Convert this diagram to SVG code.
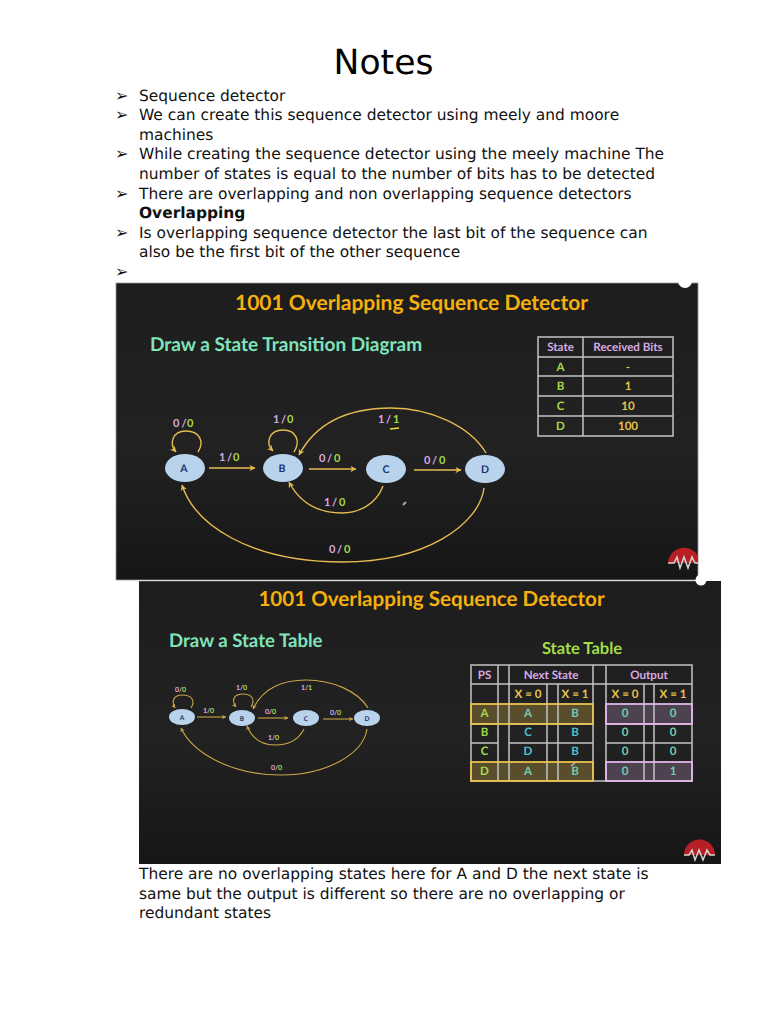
<svg xmlns="http://www.w3.org/2000/svg" width="768" height="1024" viewBox="0 0 768 1024">
<defs>
<linearGradient id="bg" x1="0" y1="0" x2="0" y2="1"><stop offset="0" stop-color="#1d1d1d"/><stop offset="0.55" stop-color="#222222"/><stop offset="1" stop-color="#161616"/></linearGradient>
<marker id="ah" viewBox="0 0 10 10" refX="9" refY="5" markerWidth="7" markerHeight="7" markerUnits="userSpaceOnUse" orient="auto"><path d="M1 0.5L9.5 5L1 9.5L3.5 5Z" fill="#e6bc50"/></marker>
<marker id="ah2" viewBox="0 0 10 10" refX="9" refY="5" markerWidth="5" markerHeight="5" markerUnits="userSpaceOnUse" orient="auto"><path d="M1 0.5L9.5 5L1 9.5L3.5 5Z" fill="#c9a646"/></marker>
</defs>
<style>
text{font-family:"DejaVu Sans","Liberation Sans",sans-serif;text-rendering:geometricPrecision}
.b{font-size:15.45px;fill:#111}
.bu{font-size:16px;fill:#111}
.s{font-family:"Lato","Open Sans",sans-serif;font-weight:700}
.c{text-anchor:middle}
.w{stroke:#e6bc50;stroke-width:1.4;fill:none;marker-end:url(#ah)}
.w2{stroke:#c9a646;stroke-width:1.1;fill:none;marker-end:url(#ah2)}
.st{fill:#b9d3ec}
.p{fill:#d8a9e0}.g{fill:#a4dc4a}.y{fill:#e8c34e}.t{fill:#72cdb4}.cy{fill:#4fc3d0}
.gl{stroke:#c4c4c4;stroke-width:1.5;fill:none}
.l1{font-size:11px}
.l2{font-size:7px}
.tt{font-size:11.600px}
</style>
<rect width="768" height="1024" fill="#fff"/>
<text x="383.500" y="74" class="c" font-size="34.600" fill="#000">Notes</text>
<g id="notes">
<text x="115" y="101" class="bu">➢</text><text x="139" y="101" class="b">Sequence detector</text>
<text x="115" y="120" class="bu">➢</text><text x="139" y="120" class="b">We can create this sequence detector using meely and moore</text>
<text x="139" y="140" class="b">machines</text>
<text x="115" y="159" class="bu">➢</text><text x="139" y="159" class="b">While creating the sequence detector using the meely machine The</text>
<text x="139" y="179" class="b">number of states is equal to the number of bits has to be detected</text>
<text x="115" y="199" class="bu">➢</text><text x="139" y="199" class="b">There are overlapping and non overlapping sequence detectors</text>
<text x="139" y="218" class="b" font-weight="700">Overlapping</text>
<text x="115" y="238" class="bu">➢</text><text x="139" y="238" class="b">Is overlapping sequence detector the last bit of the sequence can</text>
<text x="139" y="257" class="b">also be the first bit of the other sequence</text>
<text x="115" y="277" class="bu">➢</text>
</g>
<rect x="116" y="283" width="582" height="297" fill="url(#bg)" stroke="#9a9a9a" stroke-width="0.8"/>
<circle cx="685" cy="281" r="7" fill="#fff"/>
<rect x="139" y="581" width="582" height="283" fill="url(#bg)"/>
<rect x="116" y="580" width="582" height="1.2" fill="#ddd"/>
<circle cx="701" cy="580" r="5.500" fill="#fff"/>
<text x="411.500" y="310" class="s c" font-size="21" fill="#f5b010">1001 Overlapping Sequence Detector</text>
<text x="150" y="351" class="s" font-size="19" fill="#80e3ba">Draw a State Transition Diagram</text>
<g id="connectors-1">
<path class="w" d="M209 468H255"/>
<path class="w" d="M309 469H356"/>
<path class="w" d="M414 470H461"/>
<path class="w" d="M198 452C205 441 199 431 186 431C172 431 169 444 176 452"/>
<path class="w" d="M294 452C301 441 296 430 283 430C269 430 265 443 273 451"/>
<path class="w" d="M486 453C470 426 430 408 391 408C345 408 315 425 299 455"/>
<path class="w" d="M383 486C376 505 358 513 342 513C317 513 300 503 289 482"/>
<path class="w" d="M484 488C479 525 425 562 343 562C250 562 195 525 182 485"/>
</g>
<g id="labels-1">
<text x="173" y="427" class="s l1 p">0</text><text x="181.500" y="427" class="s l1 p">/</text><text x="187" y="427" class="s l1 g">0</text>
<text x="273" y="423" class="s l1 p">1</text><text x="281" y="423" class="s l1 p">/</text><text x="287" y="423" class="s l1 g">0</text>
<text x="219" y="461" class="s l1 p">1</text><text x="227" y="461" class="s l1 p">/</text><text x="233" y="461" class="s l1 g">0</text>
<text x="319" y="462" class="s l1 p">0</text><text x="327" y="462" class="s l1 p">/</text><text x="334" y="462" class="s l1 g">0</text>
<text x="424" y="464" class="s l1 p">0</text><text x="432" y="464" class="s l1 p">/</text><text x="439" y="464" class="s l1 g">0</text>
<text x="378" y="423" class="s l1 p">1</text><text x="386" y="423" class="s l1 p">/</text><text x="393" y="423" class="s l1 g">1</text>
<text x="324" y="506" class="s l1 p">1</text><text x="332" y="506" class="s l1 p">/</text><text x="339" y="506" class="s l1 g">0</text>
<text x="329" y="553" class="s l1 p">0</text><text x="337" y="553" class="s l1 p">/</text><text x="344" y="553" class="s l1 g">0</text>
</g>
<path d="M390 429L399 428" stroke="#e8e23a" stroke-width="1.500"/>
<path d="M403 505L406 502" stroke="#aaa" stroke-width="2"/>
<g id="node-a1"><ellipse class="st" cx="185" cy="468" rx="20" ry="14"/><text x="184" y="472" class="s c" font-size="10.500" fill="#1a3370">A</text></g>
<g id="node-b1"><ellipse class="st" cx="283" cy="468" rx="20" ry="14"/><text x="282" y="472" class="s c" font-size="10.500" fill="#1a3370">B</text></g>
<g id="node-c1"><ellipse class="st" cx="386" cy="469" rx="20" ry="14"/><text x="386" y="473" class="s c" font-size="10.500" fill="#1a3370">C</text></g>
<g id="node-d1"><ellipse class="st" cx="485" cy="469" rx="20" ry="14"/><text x="485" y="473" class="s c" font-size="10.500" fill="#1a3370">D</text></g>
<g id="table-1">
<path class="gl" d="M538 337H673V436H538ZM583 337V436M538 357H673M538 376H673M538 396H673M538 416H673"/>
<text x="560.500" y="351" class="s c p tt">State</text><text x="628" y="351" class="s c p tt">Received Bits</text>
<text x="560.500" y="371" class="s c g tt">A</text><text x="628" y="371" class="s c y tt">-</text>
<text x="560.500" y="390" class="s c g tt">B</text><text x="628" y="390" class="s c y tt">1</text>
<text x="560.500" y="410" class="s c g tt">C</text><text x="628" y="410" class="s c y tt">10</text>
<text x="560.500" y="430" class="s c g tt">D</text><text x="628" y="430" class="s c y tt">100</text>
</g>
<g id="logo-1"><path d="M668 563A16 16 0 0 1 698 556V563Z" fill="#b81f24"/><path d="M668 563H674L677 557L680 568L684 557L688 568L692 557L695 563H698" fill="none" stroke="#d5d5d5" stroke-width="1.500"/></g>

<text x="431.500" y="606" class="s c" font-size="20.600" fill="#f5b010">1001 Overlapping Sequence Detector</text>
<text x="169" y="647" class="s" font-size="18.600" fill="#80e3ba">Draw a State Table</text>
<g id="connectors-2">
<path class="w2" d="M197 717H226"/>
<path class="w2" d="M258 718H288"/>
<path class="w2" d="M323 719H353"/>
<path class="w2" d="M191 708C196 700 191 695 182 695C174 695 171 701 175 708"/>
<path class="w2" d="M251 707C256 699 251 694 243 694C234 694 231 700 236 707"/>
<path class="w2" d="M368 708C358 691 332 680 306 680C280 680 262 690 253 709"/>
<path class="w2" d="M304 729C298 741 288 745 275 745C262 745 252 738 247 726"/>
<path class="w2" d="M367 729C363 755 325 775 281 775C230 775 192 752 181 728"/>
</g>
<g id="labels-2">
<text x="175" y="692" class="s l2 p">0/</text><text x="182" y="692" class="s l2 g">0</text>
<text x="236" y="690" class="s l2 p">1/</text><text x="243" y="690" class="s l2 g">0</text>
<text x="203" y="713" class="s l2 p">1/</text><text x="210" y="713" class="s l2 g">0</text>
<text x="265" y="714" class="s l2 p">0/</text><text x="272" y="714" class="s l2 g">0</text>
<text x="330" y="715" class="s l2 p">0/</text><text x="337" y="715" class="s l2 g">0</text>
<text x="301" y="690" class="s l2 p">1/</text><text x="308" y="690" class="s l2 g">1</text>
<text x="268" y="740" class="s l2 p">1/</text><text x="275" y="740" class="s l2 g">0</text>
<text x="271" y="770" class="s l2 p">0/</text><text x="278" y="770" class="s l2 g">0</text>
</g>
<g id="node-a2"><ellipse class="st" cx="182" cy="717" rx="13" ry="8"/><text x="182" y="719.500" class="s c" font-size="6.500" fill="#1a3370">A</text></g>
<g id="node-b2"><ellipse class="st" cx="242" cy="718" rx="13" ry="8"/><text x="242" y="720.500" class="s c" font-size="6.500" fill="#1a3370">B</text></g>
<g id="node-c2"><ellipse class="st" cx="306" cy="718" rx="13" ry="8"/><text x="306" y="720.500" class="s c" font-size="6.500" fill="#1a3370">C</text></g>
<g id="node-d2"><ellipse class="st" cx="367" cy="718" rx="13" ry="8"/><text x="367" y="720.500" class="s c" font-size="6.500" fill="#1a3370">D</text></g>
<text x="582" y="654" class="s c g" font-size="16.500">State Table</text>
<g id="table-2">
<rect x="471" y="704" width="122" height="20" fill="#5a4d2b"/><rect x="471" y="762" width="122" height="19" fill="#5a4d2b"/>
<rect x="606" y="704" width="86" height="20" fill="#4d4250"/><rect x="606" y="762" width="86" height="19" fill="#4d4250"/>
<path class="gl" d="M471 665H692V781H471ZM471 684H692M498 665V781M509 665V781M547 684V781M558 684V781M593 665V781M606 665V781M644 684V781M654 684V781M471 724H498M509 724H593M606 724H692M471 743H498M509 743H593M606 743H692"/>
<rect x="471" y="704" width="122" height="20" fill="none" stroke="#e8c34e" stroke-width="1.800"/><rect x="471" y="762" width="122" height="19" fill="none" stroke="#e8c34e" stroke-width="1.800"/>
<rect x="606" y="704" width="86" height="20" fill="none" stroke="#e3b4e8" stroke-width="1.800"/><rect x="606" y="762" width="86" height="19" fill="none" stroke="#e3b4e8" stroke-width="1.800"/>
<g class="tt">
<text x="484.500" y="679" class="s c p tt">PS</text><text x="551" y="679" class="s c p tt">Next State</text><text x="649" y="679" class="s c p tt">Output</text>
<text x="528" y="698" class="s c y tt">X = 0</text><text x="575" y="698" class="s c y tt">X = 1</text><text x="625" y="698" class="s c y tt">X = 0</text><text x="673" y="698" class="s c y tt">X = 1</text>
<text x="484.500" y="717" class="s c g tt">A</text><text x="528" y="717" class="s c t tt">A</text><text x="575" y="717" class="s c t tt">B</text><text x="625" y="717" class="s c t tt">0</text><text x="673" y="717" class="s c t tt">0</text>
<text x="484.500" y="736" class="s c g tt">B</text><text x="528" y="736" class="s c cy tt">C</text><text x="575" y="736" class="s c cy tt">B</text><text x="625" y="736" class="s c t tt">0</text><text x="673" y="736" class="s c t tt">0</text>
<text x="484.500" y="755" class="s c g tt">C</text><text x="528" y="755" class="s c cy tt">D</text><text x="575" y="755" class="s c cy tt">B</text><text x="625" y="755" class="s c t tt">0</text><text x="673" y="755" class="s c t tt">0</text>
<text x="484.500" y="775" class="s c g tt">D</text><text x="528" y="775" class="s c t tt">A</text><text x="575" y="775" class="s c t tt">B</text><text x="625" y="775" class="s c t tt">0</text><text x="673" y="775" class="s c t tt">1</text>
</g>
<path d="M571 766L575 763" stroke="#bbb" stroke-width="1.500"/>
</g>
<g id="logo-2"><path d="M684 855A15.500 15.500 0 0 1 715 855Z" fill="#b81f24"/><path d="M684 855H689L692 850L695 860L699 850L703 860L707 850L710 855H715" fill="none" stroke="#d5d5d5" stroke-width="1.500"/></g>
<text x="139" y="879" class="b">There are no overlapping states here for A and D the next state is</text>
<text x="139" y="899" class="b">same but the output is different so there are no overlapping or</text>
<text x="139" y="918" class="b">redundant states</text>
</svg>
